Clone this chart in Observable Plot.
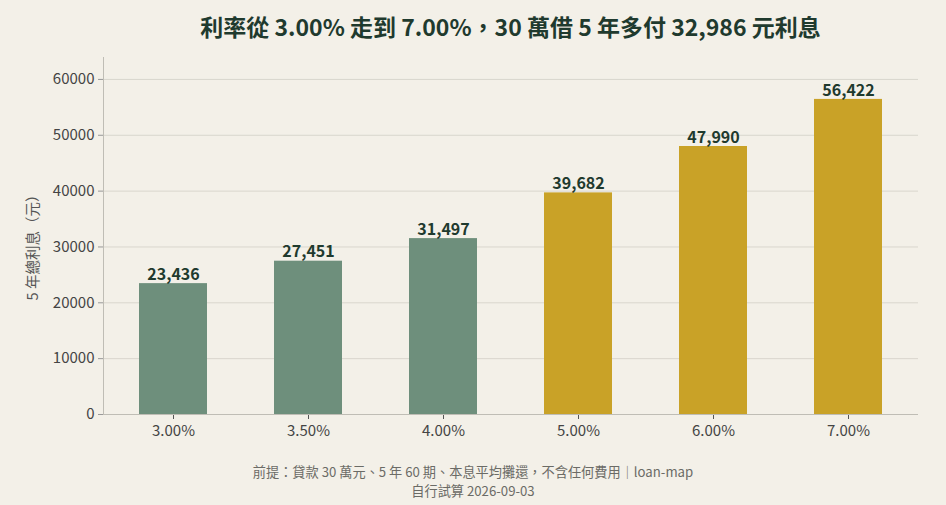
<!DOCTYPE html>
<html><head><meta charset="utf-8">
<script src="https://cdn.jsdelivr.net/npm/d3@7"></script>
<script src="https://cdn.jsdelivr.net/npm/@observablehq/plot@0.6"></script>
<style>
html,body{margin:0;padding:0;background:#f3f0e8;}
#wrap{position:relative;width:946px;height:505px;background:#f3f0e8;font-family:"Noto Sans CJK TC","Noto Sans",sans-serif;overflow:hidden;}
#title{position:absolute;left:103px;width:815px;top:10px;text-align:center;font-size:23px;font-weight:700;color:#1f3a2e;line-height:32px;}
#chart{position:absolute;left:0;top:50px;}
.foot{position:absolute;left:0;width:946px;text-align:center;font-size:13.2px;color:#6b6b66;line-height:19px;height:19px;white-space:nowrap;}
</style></head>
<body><div id="wrap">
<div id="title">利率從 3.00% 走到 7.00%，30 萬借 5 年多付 32,986 元利息</div>
<div id="chart"></div>
<div class="foot" style="top:462px">前提：貸款 30 萬元、5 年 60 期、本息平均攤還，不含任何費用｜loan-map</div>
<div class="foot" style="top:481px">自行試算 2026-09-03</div>
</div>
<script>
const rates = ["3.00%","3.50%","4.00%","5.00%","6.00%","7.00%"];
const interest = [23436, 27451, 31497, 39682, 47990, 56422];
const groups = ["low","low","low","high","high","high"];
const yTicks = [0,10000,20000,30000,40000,50000,60000];
const yLabel = "5 年總利息（元）";

const data = rates.map((r,i)=>({rate:r, value:interest[i], group:groups[i]}));
const fmt = d3.format(",");

const plot = Plot.plot({
  width: 946,
  height: 410,
  marginLeft: 103,
  marginRight: 28,
  marginTop: 7,
  marginBottom: 46,
  style: {background:"transparent", fontFamily:'"Noto Sans CJK TC","Noto Sans",sans-serif', fontSize:"15px", color:"#444"},
  x: {domain: rates, padding: 0.5, paddingOuter: 0.25, label: null, tickSize: 5},
  y: {domain: [0, 56422*1.133], ticks: yTicks, label: null, tickSize: 5},
  color: {domain:["low","high"], range:["#6e8f7c","#c9a227"]},
  marks: [
    Plot.gridY(yTicks, {stroke:"#d9d6cd", strokeOpacity:1, strokeWidth:1}),
    Plot.barY(data, {x:"rate", y:"value", fill:"group"}),
    Plot.axisY(yTicks, {tickSize:5, tickPadding:4, fontSize:15, fill:"#444", stroke:"#999", label:null, tickFormat:d=>String(d)}),
    Plot.axisX({tickSize:5, tickPadding:6, fontSize:15, fill:"#444", stroke:"#555", label:null}),
    Plot.ruleY([0], {stroke:"#bfbdb5", strokeWidth:1}),
    Plot.text(data, {x:"rate", y:"value", text:d=>fmt(d.value), dy:-9, fontSize:16, fontWeight:700, fill:"#1f3a2e"}),
    Plot.text([yLabel], {frameAnchor:"left", textAnchor:"middle", dx:-70, dy:8, rotate:-90, fontSize:14.5, fill:"#555", text:d=>d})
  ]
});
document.getElementById("chart").appendChild(plot);
// left axis line
d3.select(plot).append("line").attr("x1",103.5).attr("x2",103.5).attr("y1",7).attr("y2",364).attr("stroke","#bfbdb5");
</script>
</body></html>
